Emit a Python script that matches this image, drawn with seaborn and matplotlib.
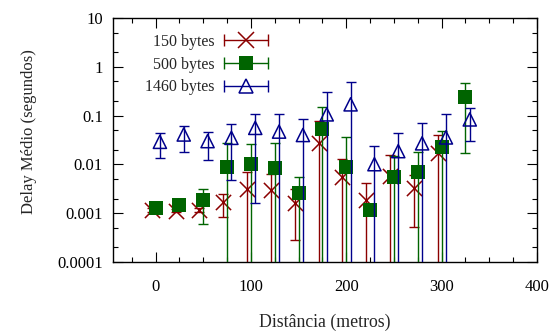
import numpy as np
import pandas as pd
import matplotlib
matplotlib.use('Agg')
import matplotlib.pyplot as plt
import matplotlib.ticker as ticker
from matplotlib.lines import Line2D
from matplotlib.legend_handler import HandlerBase
import seaborn as sns

# dados (delay medio e limites das barras de erro)
# limite inferior 0 = barra desce ate fora do eixo
x_150 = [-4, 21, 46, 71, 96, 121, 146, 171, 196, 221, 246, 271, 296]
y_150 = [0.00115, 0.00113, 0.00115, 0.0017, 0.0032, 0.0030, 0.00163, 0.027, 0.0056, 0.0019, 0.0058, 0.0033, 0.0168]
lo_150 = [0.00105, 0.00105, 0.00105, 0.00084, 0, 0, 0.00028, 0, 0, 0, 0, 0.00052, 0]
hi_150 = [0.00125, 0.0012, 0.00125, 0.00245, 0.0070, 0.0063, 0.0032, 0.077, 0.0126, 0.0042, 0.0155, 0.0062, 0.040]

x_500 = [0, 25, 50, 75, 100, 125, 150, 175, 200, 225, 250, 275, 300, 325]
y_500 = [0.00125, 0.0015, 0.00185, 0.0089, 0.0100, 0.0085, 0.00265, 0.052, 0.0089, 0.00117, 0.0054, 0.0070, 0.0222, 0.243]
lo_500 = [0.00115, 0.0014, 0.00059, 0, 0, 0, 0, 0, 0, 0.0011, 0, 0, 0, 0.0173]
hi_500 = [0.00135, 0.0016, 0.0031, 0.028, 0.026, 0.027, 0.0056, 0.152, 0.0357, 0.00125, 0.015, 0.0176, 0.048, 0.47]

x_1460 = [4.5, 29.5, 54.5, 79.5, 104.5, 129.5, 154.5, 179.5, 204.5, 229.5, 254.5, 279.5, 304.5, 329.5]
y_1460 = [0.029, 0.041, 0.030, 0.035, 0.056, 0.047, 0.040, 0.106, 0.17, 0.0101, 0.0187, 0.027, 0.0357, 0.0835]
lo_1460 = [0.0136, 0.018, 0.0122, 0.0048, 0.00163, 0, 0, 0, 0, 0, 0, 0, 0, 0.030]
hi_1460 = [0.045, 0.062, 0.046, 0.066, 0.107, 0.106, 0.085, 0.30, 0.49, 0.024, 0.043, 0.069, 0.107, 0.14]

labels = ['150 bytes', '500 bytes', '1460 bytes']

sns.set_theme(style='ticks')
plt.rcParams['font.family'] = ['Liberation Serif', 'DejaVu Serif']
plt.rcParams['font.size'] = 12


class HandlerBarraX(HandlerBase):
    # amostra da legenda estilo gnuplot: linha horizontal com "caps" e marcador
    def create_artists(self, legend, orig, xdescent, ydescent, width, height, fontsize, trans):
        y = height / 2 - ydescent
        x0, x1 = -xdescent, width - xdescent
        c = orig.get_color()
        linha = Line2D([x0, x1], [y, y], color=c, lw=1.0)
        caps = Line2D([x0, x1], [y, y], ls='none', marker='|', markersize=8, mew=1.0, color=c)
        mk = Line2D([(x0 + x1) / 2], [y], ls='none', marker=orig.get_marker(),
                    markersize=orig.get_markersize(), mfc=orig.get_markerfacecolor(),
                    mec=orig.get_markeredgecolor(), mew=orig.get_markeredgewidth())
        for a in (linha, caps, mk):
            a.set_transform(trans)
        return [linha, caps, mk]


fig = plt.figure(figsize=(5.56, 3.31), dpi=100)
ax = fig.add_axes([0.2027, 0.2085, 0.7631, 0.7371])

series = [
    (x_150, y_150, lo_150, hi_150, '#8b0000', 'x', dict(s=120, linewidth=1.1)),
    (x_500, y_500, lo_500, hi_500, '#006400', 's', dict(s=110, linewidth=0)),
    (x_1460, y_1460, lo_1460, hi_1460, '#00008b', '^', dict(s=90, linewidth=1.1, facecolor='none')),
]

handles = []
for i, (xs, ys, lo, hi, cor, mk, kw) in enumerate(series):
    df = pd.DataFrame({'x': xs, 'y': ys, 'lo': lo, 'hi': hi})
    lo_plot = np.where(df['lo'] > 0, df['lo'], 1e-7)
    yerr = [df['y'] - lo_plot, df['hi'] - df['y']]
    ax.errorbar(df['x'], df['y'], yerr=yerr, fmt='none', ecolor=cor, elinewidth=1.0,
                capsize=3.6, capthick=1.0, zorder=2 + 2 * i)
    sns.scatterplot(data=df, x='x', y='y', ax=ax, marker=mk, color=cor,
                    edgecolor=cor, legend=False, zorder=3 + 2 * i, **kw)
    if mk == '^':
        h = Line2D([], [], color=cor, marker=mk, markersize=9.5, mfc='none', mec=cor, mew=1.1)
    elif mk == 's':
        h = Line2D([], [], color=cor, marker=mk, markersize=10.5, mfc=cor, mec=cor, mew=0)
    else:
        h = Line2D([], [], color=cor, marker=mk, markersize=11, mec=cor, mew=1.1)
    handles.append(h)

ax.set_yscale('log')
ax.set_xlim(-45, 400)
ax.set_ylim(1e-4, 10)

ax.xaxis.set_major_locator(ticker.MultipleLocator(100))
ax.xaxis.set_minor_locator(ticker.MultipleLocator(25))
ax.yaxis.set_major_locator(ticker.LogLocator(base=10, numticks=10))
ax.yaxis.set_minor_locator(ticker.LogLocator(base=10, subs=[2, 5], numticks=10))
ax.yaxis.set_major_formatter(ticker.FuncFormatter(lambda v, p: f'{v:g}'))
ax.yaxis.set_minor_formatter(ticker.NullFormatter())

ax.tick_params(which='both', direction='in', top=True, right=True, colors='black', labelsize=12)
ax.tick_params(which='major', length=7, width=0.8)
ax.tick_params(which='minor', length=3.6, width=0.8)
ax.tick_params(axis='x', which='major', pad=12)
ax.tick_params(axis='y', which='major', pad=7)
for s in ax.spines.values():
    s.set_linewidth(1.0)
    s.set_color('black')

ax.set_xlabel('Distância (metros)', fontsize=12.8, labelpad=14)
ax.set_ylabel('Delay Médio (segundos)', fontsize=12)
ax.yaxis.set_label_coords(-0.178, 0.535)

ax.legend(handles, labels, handler_map={Line2D: HandlerBarraX()}, loc='upper left',
          bbox_to_anchor=(0.077, 0.935), frameon=False, markerfirst=False,
          handlelength=2.75, handletextpad=0.55, labelspacing=0.42, borderpad=0,
          borderaxespad=0, fontsize=11.5)

fig.savefig('out.png', dpi=100)
